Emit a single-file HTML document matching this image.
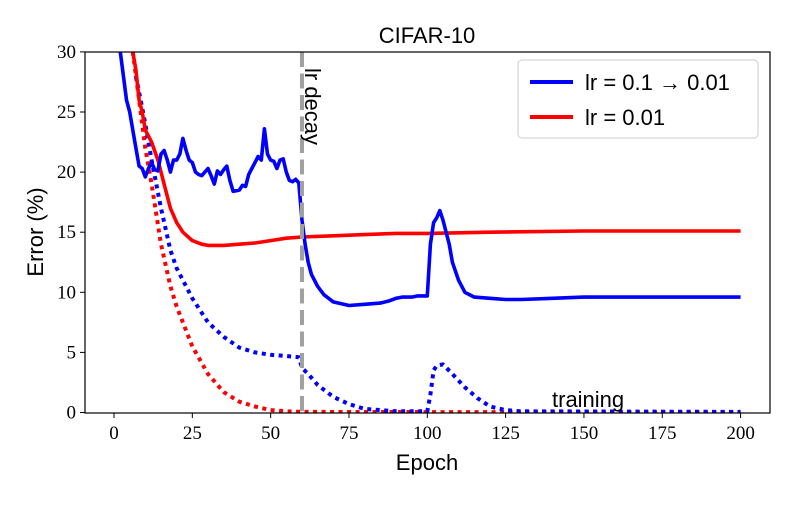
<!DOCTYPE html>
<html><head><meta charset="utf-8"><style>
body{margin:0;background:#fff;position:relative;}
svg text{font-family:"Liberation Sans",sans-serif;}
.tick{font-family:"Liberation Serif",serif;font-size:19px;}
</style></head><body>
<svg id="chart" width="800" height="500">
<defs><clipPath id="pa"><rect x="85" y="52" width="685" height="361"/></clipPath></defs>
<rect x="0" y="0" width="800" height="500" fill="#fff"/>
<g id="marks" clip-path="url(#pa)"></g>
<g id="axes"></g>
</svg>
<script>
const blueValEpochs=[2,4,5,7,8,9,10,11,12,13,14,15,16,17,18,19,20,21,22,23,24,25,26,27,28,30,31,32,33,34,35,36,37,38,40,41,42,43,45,46,47,48,49,50,51,52,53,54,55,56,57,58,59,60,61,62,63,65,67,70,75,80,85,88,90,92,95,97,100,101,102,103,104,105,106,107,108,110,112,115,120,125,130,140,150,160,170,180,190,200];
const blueVal=[30,26,25,22,20.5,20.3,19.6,20.3,20.8,20.2,20.1,21.5,21.8,21,20,21,21,21.5,22.8,21.8,21,20.8,20,19.8,19.7,20.3,19.7,19,20.1,19.8,20.2,20.5,19.3,18.4,18.5,18.9,18.8,19.8,20.8,21.3,21,23.6,21.5,21,20.9,20.3,21,21.1,20,19.3,19.2,19.4,19.1,16,14,12.5,11.5,10.5,9.8,9.2,8.9,9.0,9.1,9.3,9.5,9.6,9.6,9.7,9.7,14,15.8,16.2,16.8,16,15,14,12.5,11,10,9.6,9.5,9.4,9.4,9.5,9.6,9.6,9.6,9.6,9.6,9.6];
const redValEpochs=[6,7,8,9,10,12,14,16,18,20,22,25,28,30,35,40,45,50,55,60,70,80,90,100,120,150,180,200];
const redVal=[30,28.5,26,25,23.5,22.5,21,19,17,15.8,15,14.3,14,13.9,13.9,14,14.1,14.3,14.5,14.6,14.7,14.8,14.9,14.9,15.0,15.1,15.1,15.1];
const blueTrainEpochs=[7,10,12,15,18,20,25,30,35,40,45,50,55,59,60,62,65,70,75,80,85,90,100,101,102,103,105,108,112,116,120,125,130,200];
const blueTrain=[28,24,21,17,13.5,12,9.5,7.5,6.3,5.4,5,4.8,4.7,4.6,3.7,3.2,2.3,1.3,0.7,0.3,0.2,0.1,0.1,1.5,3.5,3.9,4.0,3.2,2.1,1.2,0.5,0.2,0.1,0.05];
const redTrainEpochs=[6,8,10,12,15,18,20,25,30,35,40,45,50,55,60,200];
const redTrain=[30,26,22,19,14,10.5,8.8,5.5,3.2,1.7,0.9,0.5,0.2,0.1,0.05,0];
const xTicks=[0,25,50,75,100,125,150,175,200];
const yTicks=[0,5,10,15,20,25,30];

const X=e=>114+e*3.133;
const Y=v=>412.5-v*12.02;
const NS="http://www.w3.org/2000/svg";
const marks=document.getElementById('marks'), axes=document.getElementById('axes');
function mk(tag,attrs,parent){const el=document.createElementNS(NS,tag);for(const k in attrs)el.setAttribute(k,attrs[k]);parent.appendChild(el);return el;}
function line(xs,ys,color,dash,name){
  const d=xs.map((e,i)=>(i?'L':'M')+X(e).toFixed(1)+','+Y(ys[i]).toFixed(1)).join(' ');
  const p=mk('path',{d:d,fill:'none',stroke:color,'stroke-width':dash?4:3.6,'stroke-linejoin':'round'},marks);
  if(dash)p.setAttribute('stroke-dasharray','4 4.5');
  
  
}
line(redTrainEpochs,redTrain,'#ff0000',true,'red-train-line');
line(blueTrainEpochs,blueTrain,'#0000ff',true,'blue-train-line');
line(redValEpochs,redVal,'#ff0000',false,'red-test-line');
line(blueValEpochs,blueVal,'#0000ff',false,'blue-test-line');
const dl=mk('line',{x1:X(60),x2:X(60),y1:52,y2:413,stroke:'#a0a0a0','stroke-width':4,'stroke-dasharray':'15 6.5'},marks);



const fr=mk('rect',{x:85,y:52,width:685,height:361,fill:'none',stroke:'#000','stroke-width':1.2},axes);


xTicks.forEach(t=>{
  mk('line',{x1:X(t),x2:X(t),y1:413,y2:418,stroke:'#000'},axes);
  const tx=mk('text',{x:X(t),y:439,'text-anchor':'middle',class:'tick'},axes);tx.textContent=t;
  
  
});
yTicks.forEach(t=>{
  mk('line',{x1:80,x2:85,y1:Y(t),y2:Y(t),stroke:'#000'},axes);
  const tx=mk('text',{x:76,y:Y(t)+6,'text-anchor':'end',class:'tick'},axes);tx.textContent=t;
  
  
});
</script>
<svg width="800" height="500" style="position:absolute;left:0;top:0">
<text x="427" y="43" text-anchor="middle" font-size="22">CIFAR-10</text>
<text x="427" y="470" text-anchor="middle" font-size="22">Epoch</text>
<text transform="translate(43,232) rotate(-90)" text-anchor="middle" font-size="22">Error (%)</text>
<text transform="translate(305,68) rotate(90)" font-size="22">lr decay</text>
<text x="552" y="407" font-size="22">training</text>
<g>
<rect x="518" y="60" width="240" height="78" rx="4" fill="#fff" stroke="#ccc" stroke-width="1"/>
<line x1="530" y1="82" x2="573" y2="82" stroke="#0000ff" stroke-width="4"/>
<text x="585" y="90" font-size="22">lr = 0.1 → 0.01</text>
<line x1="530" y1="117" x2="573" y2="117" stroke="#ff0000" stroke-width="4"/>
<text x="585" y="125" font-size="22">lr = 0.01</text>
</g>
</svg>
</body></html>
